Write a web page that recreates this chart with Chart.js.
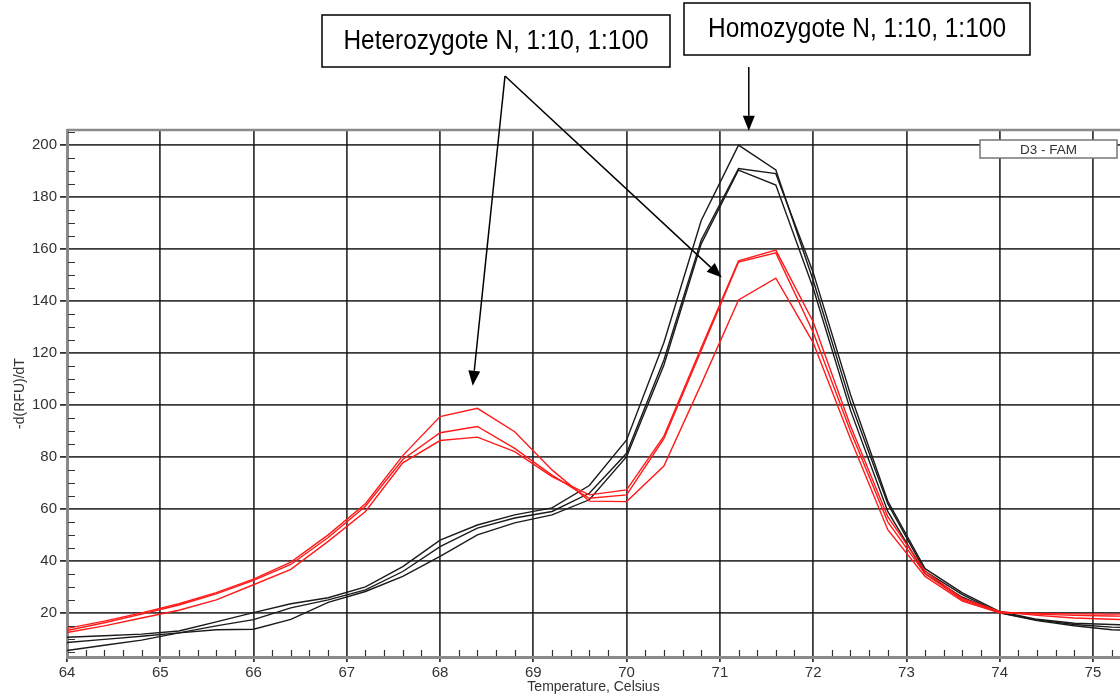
<!DOCTYPE html>
<html>
<head>
<meta charset="utf-8">
<script src="https://cdn.jsdelivr.net/npm/chart.js@4.4.0/dist/chart.umd.min.js"></script>
<style>
  html, body { margin: 0; background: #fff; }
  #wrap { width: 1120px; height: 700px; }
</style>
</head>
<body>
<div id="wrap"><canvas id="melt" width="1120" height="700"></canvas></div>
<script>
// melt curve samples, every 0.4 C
const temps = [64.0, 64.4, 64.8, 65.2, 65.6, 66.0, 66.4, 66.8, 67.2, 67.6, 68.0, 68.4, 68.8, 69.2, 69.6,
               70.0, 70.4, 70.8, 71.2, 71.6, 72.0, 72.4, 72.8, 73.2, 73.6, 74.0, 74.4, 74.8, 75.2, 75.6];

// heterozygote wells (red)
const het1 = [14, 16.8, 20, 23.5, 27.8, 33, 39.5, 50, 62, 80.5, 95.5, 98.7, 89.7, 75, 63,
              62.8, 76.5, 108, 140.4, 148.8, 124, 87, 52, 34, 24.5, 20, 19.5, 19, 18.8, 18.5];
const het2 = [13.2, 16.2, 19.5, 23, 27.3, 32.5, 38.6, 49, 61, 79, 89.3, 91.7, 83.3, 73, 64.1,
              65.4, 87, 121, 155, 158.5, 128, 90, 55, 35, 25, 20, 19.8, 19.6, 19.5, 19.5];
const het3 = [12.4, 15, 18, 21, 25, 30.8, 36.7, 47.5, 59, 77.7, 86.3, 87.6, 82, 72.4, 65.4,
              67.3, 88, 122, 155.5, 159.6, 132, 92, 57, 36, 25.5, 20.5, 19, 18, 17.5, 17.2];

// homozygote wells (black)
const hom1 = [10.6, 11.2, 11.8, 13, 16.5, 20.1, 23.5, 25.8, 30, 37.8, 48, 53.8, 57.7, 60.4, 69,
              86.5, 124, 171, 200, 190.4, 148, 101, 62, 36, 27, 20, 17.3, 15.5, 14.5, 14];
const hom2 = [8.6, 9.8, 11, 12.3, 15, 17.4, 21.9, 25, 28.8, 35.9, 45.5, 52.6, 56.5, 59, 66,
              81.4, 117.3, 163.5, 191, 189, 151, 104, 63, 37, 27.7, 20.5, 17.5, 16, 15.5, 15];
const hom3 = [5.5, 7.5, 9.5, 12.3, 13.5, 13.7, 17.5, 24, 28.2, 34, 41.7, 50, 54.6, 57.7, 63.5,
              80.1, 115.4, 162, 190.4, 184.6, 145, 98, 59, 35, 26, 20, 17, 15, 13.5, 13];

const xTicks = [64, 65, 66, 67, 68, 69, 70, 71, 72, 73, 74, 75];
const yTicks = [20, 40, 60, 80, 100, 120, 140, 160, 180, 200];

// callouts: text + where the arrows point (temperature, value)
const hetLabel = 'Heterozygote N, 1:10, 1:100';
const homLabel = 'Homozygote N, 1:10, 1:100';
const hetTargets = [[68.35, 107.4], [71.02, 149]];
const homTarget = [71.31, 205.5];

const RED = '#ff1a1a';
const BLACK = '#1a1a1a';
const FONT = '"Liberation Sans", Arial, sans-serif';

function makeSet(vals, color) {
  return {
    data: temps.map((t, i) => ({ x: t, y: vals[i] })),
    borderColor: color,
    borderWidth: 1.4,
    pointRadius: 0,
    tension: 0,
    fill: false
  };
}

function arrow(ctx, x0, y0, x1, y1) {
  const ang = Math.atan2(y1 - y0, x1 - x0);
  const len = 15, half = 6;
  const bx = x1 - len * Math.cos(ang), by = y1 - len * Math.sin(ang);
  ctx.beginPath();
  ctx.moveTo(x0, y0);
  ctx.lineTo(bx, by);
  ctx.stroke();
  ctx.beginPath();
  ctx.moveTo(x1, y1);
  ctx.lineTo(bx + half * Math.sin(ang), by - half * Math.cos(ang));
  ctx.lineTo(bx - half * Math.sin(ang), by + half * Math.cos(ang));
  ctx.closePath();
  ctx.fill();
}

// boxed label, text squeezed a little to match the narrow face of the original
function textBox(ctx, text, box, textW) {
  ctx.fillStyle = '#fff';
  ctx.fillRect(box.x, box.y, box.w, box.h);
  ctx.strokeStyle = '#000';
  ctx.lineWidth = 1.5;
  ctx.strokeRect(box.x, box.y, box.w, box.h);
  ctx.font = '27px ' + FONT;
  const k = textW / ctx.measureText(text).width;
  ctx.save();
  ctx.translate(box.x + box.w / 2, box.y + box.h / 2 + 1);
  ctx.scale(k, 1);
  ctx.fillStyle = '#000';
  ctx.textAlign = 'center';
  ctx.textBaseline = 'middle';
  ctx.fillText(text, 0, 0);
  ctx.restore();
}

// minor ticks, top frame, well legend and the two callouts
const decor = {
  id: 'decor',
  afterDraw(chart) {
    const { ctx, chartArea: a, scales: { x, y } } = chart;
    ctx.save();
    ctx.strokeStyle = '#333';
    ctx.lineWidth = 1.2;
    ctx.beginPath();
    for (let v = 5; v < y.max; v += 5) {
      if (v % 20 === 0 || v < y.min) continue;
      const py = Math.round(y.getPixelForValue(v)) + 0.5;
      ctx.moveTo(a.left + 1, py);
      ctx.lineTo(a.left + 8, py);
    }
    for (let i = 1; x.min + i * 0.2 < x.max; i++) {
      if (i % 5 === 0) continue;
      const px = Math.round(x.getPixelForValue(x.min + i * 0.2)) + 0.5;
      ctx.moveTo(px, a.bottom - 1);
      ctx.lineTo(px, a.bottom - 7);
    }
    ctx.stroke();

    ctx.strokeStyle = '#8a8a8a';
    ctx.lineWidth = 2.5;
    ctx.beginPath();
    ctx.moveTo(a.left, a.top);
    ctx.lineTo(a.right, a.top);
    ctx.stroke();

    // well legend
    const lg = { x: a.right - 140, y: a.top + 10, w: 137, h: 18 };
    ctx.fillStyle = '#fff';
    ctx.fillRect(lg.x, lg.y, lg.w, lg.h);
    ctx.strokeStyle = '#777';
    ctx.lineWidth = 1.5;
    ctx.strokeRect(lg.x, lg.y, lg.w, lg.h);
    ctx.fillStyle = '#333';
    ctx.font = '13.5px ' + FONT;
    ctx.textAlign = 'center';
    ctx.textBaseline = 'middle';
    ctx.fillText('D3 - FAM', lg.x + lg.w / 2, lg.y + lg.h / 2 + 1);

    // callouts
    const hetBox = { x: 322, y: 15, w: 348, h: 52 };
    const homBox = { x: 684, y: 3, w: 346, h: 52 };
    textBox(ctx, hetLabel, hetBox, 305);
    textBox(ctx, homLabel, homBox, 298);

    ctx.strokeStyle = '#000';
    ctx.fillStyle = '#000';
    ctx.lineWidth = 1.5;
    const ox = 505, oy = hetBox.y + hetBox.h + 9;
    hetTargets.forEach(([tx, ty]) => {
      arrow(ctx, ox, oy, x.getPixelForValue(tx), y.getPixelForValue(ty));
    });
    const hx = x.getPixelForValue(homTarget[0]);
    arrow(ctx, hx, homBox.y + homBox.h + 12, hx, y.getPixelForValue(homTarget[1]));
    ctx.restore();
  }
};

Chart.defaults.font.family = FONT;

new Chart(document.getElementById('melt'), {
  type: 'line',
  data: {
    datasets: [
      makeSet(het1, RED), makeSet(het2, RED), makeSet(het3, RED),
      makeSet(hom1, BLACK), makeSet(hom2, BLACK), makeSet(hom3, BLACK)
    ]
  },
  options: {
    responsive: false,
    animation: false,
    layout: { padding: { top: 130, right: 0, bottom: 0, left: 0 } },
    plugins: { legend: { display: false }, tooltip: { enabled: false } },
    scales: {
      x: {
        type: 'linear',
        min: 64,
        max: 75.29,
        afterBuildTicks: s => { s.ticks = xTicks.map(v => ({ value: v })); },
        afterFit: s => { s.height = 43; },
        grid: { color: 'rgba(25,25,25,0.85)', lineWidth: 1.8, tickLength: 5, tickColor: '#333' },
        border: { color: '#8a8a8a', width: 3 },
        ticks: { color: '#333', font: { size: 15 }, padding: 2, maxRotation: 0, autoSkip: false },
        title: { display: true, text: 'Temperature, Celsius', color: '#333', font: { size: 14 }, padding: { top: 0, bottom: 4 } }
      },
      y: {
        min: 3,
        max: 205.8,
        afterBuildTicks: s => { s.ticks = yTicks.map(v => ({ value: v })); },
        afterFit: s => { s.width = 67; },
        grid: { color: 'rgba(25,25,25,0.85)', lineWidth: 1.8, tickLength: 7, tickColor: '#333' },
        border: { color: '#8a8a8a', width: 3 },
        ticks: { color: '#333', font: { size: 15 }, padding: 3 },
        title: { display: true, text: '-d(RFU)/dT', color: '#333', font: { size: 14 }, padding: { top: 12, bottom: 0 } }
      }
    }
  },
  plugins: [decor]
});
</script>
</body>
</html>
